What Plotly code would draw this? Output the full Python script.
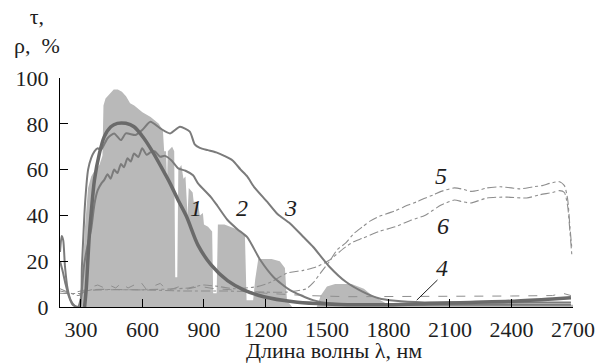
import plotly.graph_objects as go

# Solar irradiance background (relative units, %)
sun_wl = [300, 310, 320, 335, 350, 370, 390, 405, 410, 420, 440, 460, 480, 500, 520, 540, 560, 600,
          640, 680, 700, 706, 715, 720, 724, 745, 755, 760, 770, 775, 790, 800, 810, 820, 826, 845,
          850, 870, 880, 895, 900, 920, 940, 945, 962, 968, 1000, 1060, 1100, 1108, 1140, 1150, 1165,
          1230, 1270, 1295, 1305, 1330, 1450, 1470, 1500, 1540, 1620, 1680, 1720, 1760, 1800, 1850,
          1950, 2000, 2100, 2300, 2400, 2700]
sun_val = [0, 15, 35, 52, 57, 60, 62, 66, 88, 91, 93, 95, 95, 94, 92, 89, 88, 85,
           83, 80, 77, 68, 68, 55, 68, 70, 68, 13, 13, 60, 62, 56, 57, 40, 52, 50,
           46, 46, 40, 41, 36, 35, 33, 6, 6, 36, 36, 34, 31, 3, 3, 12, 21,
           21, 20, 17, 3, 0, 0, 5, 9, 10, 10, 8, 5, 3, 1, 0.5,
           0.5, 2, 2.5, 2, 1.5, 1]

# Curve 1
c1_wl = [318, 326, 340, 350, 366, 390, 414, 446, 478, 519, 559, 607, 655, 711, 735, 775, 815, 871,
         934, 1015, 1096, 1192, 1336, 1450, 1600, 1800, 2000, 2200, 2400, 2600, 2690]
c1_val = [0, 8, 30, 41, 55.5, 67, 74.4, 78.7, 80.2, 80.2, 78.7, 73.7, 67, 58, 54, 46.5, 39.5, 27,
          18.5, 11.5, 7.4, 4.5, 2.3, 1.5, 1, 1, 1.5, 2, 2.5, 3.5, 4]

# Curve 2
c2_wl = [198, 210, 225, 240, 260, 285, 300, 315, 335, 350, 366, 382, 400, 414, 430, 445, 462, 478,
         495, 510, 527, 543, 559, 580, 599, 620, 639, 660, 687, 710, 742, 775, 810, 847, 871, 934,
         967, 1015, 1063, 1111, 1175, 1240, 1320, 1432, 1530, 1700, 2000, 2400, 2690]
c2_val = [20, 16, 10, 5, 1, 0, 4, 18, 28, 34, 45, 51, 54, 55.5, 58, 56, 60, 58.5,
          62.5, 61, 65, 63.5, 67, 65.5, 69.3, 66.5, 67.5, 68, 65.6, 66, 64, 60.5, 59.5, 57.5, 54, 48,
          44, 38, 34, 30.5, 20.5, 13, 7.4, 3, 1.5, 1, 1, 1, 1]

# Curve 3
c3_wl = [198, 206, 214, 222, 235, 250, 270, 295, 305, 320, 335, 350, 366, 382, 398, 430, 462, 495,
         519, 567, 599, 639, 687, 735, 783, 831, 855, 880, 919, 960, 999, 1040, 1079, 1111, 1144,
         1208, 1260, 1320, 1384, 1432, 1512, 1592, 1673, 1752, 1833, 1977, 2300, 2690]
c3_val = [24, 31, 29, 18, 8, 3, 0.5, 0, 18, 45, 60, 65, 68, 69.3, 68.6, 73.7, 75.8, 72.9,
          75.8, 75.1, 77.3, 80.9, 78, 75.8, 78.7, 76.6, 71, 69.5, 68.5, 67.5, 66, 64, 60, 57, 52.5,
          46, 40.5, 36.5, 30.7, 26.3, 17.6, 11, 6.7, 3.8, 2.7, 2, 2, 2]

# Curve 4
c4_wl = [198, 250, 300, 334, 360, 382, 410, 440, 470, 495, 530, 560, 591, 620, 650, 687, 720, 750,
         783, 815, 847, 880, 950, 1072, 1200, 1400, 1600, 1800, 2000, 2200, 2400, 2600, 2650, 2690]
c4_val = [7, 6, 7, 7.7, 9, 9.6, 8.5, 9.5, 8.3, 10.3, 8.3, 9.5, 11, 7.6, 9, 10.3, 7.3, 8,
          9, 7.8, 8.3, 9, 8, 7.3, 6, 5, 4.5, 4.5, 4.5, 4.5, 4.8, 5, 6, 5]

# Curve 5
c5_wl = [198, 250, 290, 320, 400, 600, 800, 1000, 1200, 1300, 1400, 1432, 1470, 1513, 1550, 1592,
         1630, 1673, 1710, 1753, 1800, 1833, 1896, 1940, 1977, 2020, 2057, 2121, 2160, 2201, 2240,
         2280, 2346, 2400, 2442, 2506, 2550, 2586, 2634, 2658, 2674, 2685, 2695]
c5_val = [8, 6, 5, 7, 7.5, 7.5, 7, 7, 6.5, 6.5, 8, 10.5, 15, 20, 25, 28,
          32, 35, 37.5, 39.5, 41, 42, 44.5, 46, 47.5, 49, 50.5, 52, 51.5, 50.5, 51,
          52, 52.5, 52, 51.6, 52.5, 53, 54, 54.7, 53, 47, 35, 25]

# Curve 6
c6_wl = [198, 300, 350, 600, 823, 900, 967, 1050, 1160, 1230, 1304, 1384, 1448, 1513, 1560, 1592,
         1630, 1673, 1753, 1833, 1913, 1977, 2057, 2121, 2160, 2201, 2280, 2378, 2474, 2538, 2600,
         2634, 2658, 2674, 2685, 2695]
c6_val = [6, 6, 7.5, 7.5, 8.3, 9.6, 9, 8, 8.9, 11, 14.8, 16, 17.5, 20.5, 24, 26.3,
          28.5, 30, 33, 35, 38, 40, 44.5, 46.7, 46, 45.4, 47.6, 48, 47.6, 49, 50,
          50.8, 50, 44, 33, 22]

x_ticks = [300, 600, 900, 1200, 1500, 1800, 2100, 2400, 2700]
y_ticks = [0, 20, 40, 60, 80, 100]

# Curve number labels: (text, wavelength, value)
curve_labels = [("1", 859, 43.4), ("2", 1087, 43.4), ("3", 1321, 43.2),
                ("5", 2056, 57.2), ("6", 2066, 35.4), ("4", 2061, 17.2)]

SERIF = "Liberation Serif, Times New Roman, serif"

fig = go.Figure()

fig.add_trace(go.Scatter(x=sun_wl, y=sun_val, mode="lines", fill="tozeroy",
                         fillcolor="#b9b9b9", line=dict(width=0, color="#b9b9b9"),
                         hoverinfo="skip"))

fig.add_trace(go.Scatter(x=c4_wl, y=c4_val, mode="lines",
                         line=dict(color="#8e8e8e", width=1, dash="dash")))
fig.add_trace(go.Scatter(x=c5_wl, y=c5_val, mode="lines",
                         line=dict(color="#8e8e8e", width=1.1, dash="dashdot", shape="spline", smoothing=0.6)))
fig.add_trace(go.Scatter(x=c6_wl, y=c6_val, mode="lines",
                         line=dict(color="#8e8e8e", width=1.1, dash="dashdot", shape="spline", smoothing=0.6)))
fig.add_trace(go.Scatter(x=c3_wl, y=c3_val, mode="lines",
                         line=dict(color="#7b7b7b", width=2, shape="spline", smoothing=0.6)))
fig.add_trace(go.Scatter(x=c2_wl, y=c2_val, mode="lines",
                         line=dict(color="#7b7b7b", width=2, shape="spline", smoothing=0.6)))
fig.add_trace(go.Scatter(x=c1_wl, y=c1_val, mode="lines",
                         line=dict(color="#6a6a6a", width=3.5, shape="spline", smoothing=0.8)))

for txt, xv, yv in curve_labels:
    fig.add_annotation(x=xv, y=yv, text=txt, showarrow=False, xanchor="center", yanchor="middle",
                       font=dict(family=SERIF, size=24, color="#1e1e1e", style="italic"))

# Leader line for curve 4
fig.add_shape(type="line", x0=2039, y0=11.8, x1=1938, y1=3,
              line=dict(color="#1e1e1e", width=1))

# Y axis title (two centred lines)
fig.add_annotation(xref="paper", yref="paper", x=-0.044, y=1.205, text="τ,<br>ρ,  %",
                   showarrow=False, xanchor="center", yanchor="middle", align="center", borderpad=0,
                   font=dict(family=SERIF, size=22, color="#1e1e1e"))
# X axis title
fig.add_annotation(xref="paper", yref="paper", x=0.534, y=-0.249, text="Длина волны λ, нм",
                   showarrow=False, xanchor="center", yanchor="bottom", borderpad=0,
                   font=dict(family=SERIF, size=22, color="#1e1e1e"))

axis_common = dict(showgrid=False, zeroline=False, showline=True, linecolor="black", linewidth=1,
                   ticks="inside", ticklen=8, tickwidth=1, tickcolor="black",
                   tickfont=dict(family=SERIF, size=22, color="#1e1e1e"))

fig.update_xaxes(range=[198, 2700], tickvals=x_ticks, ticklabelstandoff=3, **axis_common)
fig.update_yaxes(range=[0, 100], tickvals=y_ticks, ticklabelstandoff=6, **axis_common)

fig.update_layout(width=607, height=364, margin=dict(l=60, r=26.5, t=78, b=57),
                  plot_bgcolor="white", paper_bgcolor="white", showlegend=False)

fig.write_html("out.html")
